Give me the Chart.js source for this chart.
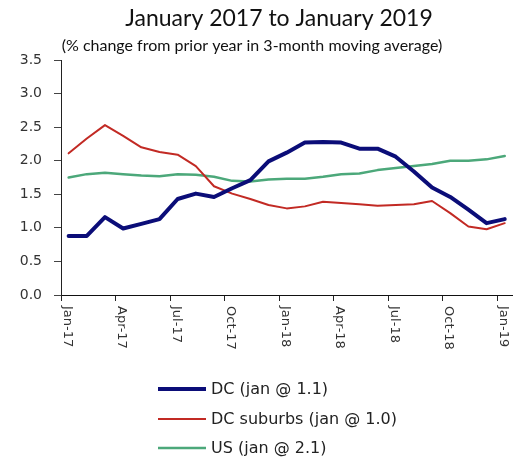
<!DOCTYPE html>
<html><head><meta charset="utf-8">
<script src="https://cdn.jsdelivr.net/npm/chart.js@4.4.1/dist/chart.umd.min.js"></script>
<style>html,body{margin:0;padding:0;background:#fff}#wrap{width:514px;height:460px}</style>
</head><body><div id="wrap"><canvas id="c" width="514" height="460"></canvas></div>
<script>
const months = ['Jan-17','Feb-17','Mar-17','Apr-17','May-17','Jun-17','Jul-17','Aug-17','Sep-17','Oct-17','Nov-17','Dec-17',
  'Jan-18','Feb-18','Mar-18','Apr-18','May-18','Jun-18','Jul-18','Aug-18','Sep-18','Oct-18','Nov-18','Dec-18','Jan-19'];
const tickLabels = ['Jan-17','Apr-17','Jul-17','Oct-17','Jan-18','Apr-18','Jul-18','Oct-18','Jan-19'];
const dc        = [0.88,0.88,1.16,0.99,1.06,1.13,1.43,1.51,1.46,1.59,1.71,1.99,2.12,2.27,2.28,2.27,2.18,2.18,2.06,1.84,1.60,1.46,1.27,1.07,1.13];
const dcSuburbs = [2.11,2.33,2.53,2.37,2.20,2.13,2.09,1.92,1.62,1.51,1.43,1.34,1.29,1.32,1.39,1.37,1.35,1.33,1.34,1.35,1.40,1.22,1.02,0.98,1.07];
const us        = [1.75,1.80,1.82,1.80,1.78,1.77,1.80,1.79,1.76,1.70,1.69,1.72,1.73,1.73,1.76,1.80,1.81,1.86,1.89,1.92,1.95,2.00,2.00,2.02,2.07];
const seriesNames = ['DC (jan @ 1.1)','DC suburbs (jan @ 1.0)','US (jan @ 2.1)'];
const titleText = 'January 2017 to January 2019';
const subtitleText = '(% change from prior year in 3-month moving average)';

const MONTH_OFFSET = 0.42;
const toPts = arr => arr.map((v, i) => ({x: i + MONTH_OFFSET, y: v}));
const tickValues = tickLabels.map(l => months.indexOf(l));

const decor = {
  id: 'decor',
  afterDraw(chart) {
    const ctx = chart.ctx;
    ctx.save();
    // titles
    ctx.fillStyle = '#111';
    ctx.textAlign = 'center';
    ctx.textBaseline = 'middle';
    ctx.font = '23px Lato';
    ctx.fillText(titleText, 279, 19);
    ctx.font = '16px Lato';
    ctx.fillText(subtitleText, 252, 46);
    // rotated x tick labels
    const xs = chart.scales.x;
    ctx.font = '13px "DejaVu Sans"';
    ctx.fillStyle = '#333';
    xs.ticks.forEach((t, k) => {
      const px = xs.getPixelForValue(t.value);
      ctx.save();
      ctx.translate(px + 6, 306);
      ctx.rotate(Math.PI / 2);
      ctx.textAlign = 'left';
      ctx.textBaseline = 'middle';
      ctx.fillText(tickLabels[k], 0, 0);
      ctx.restore();
    });
    // legend
    const rows = [389, 419, 448];
    ctx.font = '16px "DejaVu Sans"';
    ctx.textAlign = 'left';
    ctx.textBaseline = 'middle';
    chart.data.datasets.forEach((ds, i) => {
      ctx.strokeStyle = ds.borderColor;
      ctx.lineWidth = ds.borderWidth;
      ctx.lineCap = 'butt';
      ctx.beginPath();
      ctx.moveTo(158, rows[i]);
      ctx.lineTo(206, rows[i]);
      ctx.stroke();
      ctx.fillStyle = '#222';
      ctx.fillText(ds.label, 211, rows[i] + 1);
    });
    ctx.restore();
  }
};

new Chart(document.getElementById('c'), {
  type: 'line',
  data: {
    datasets: [
      {label: seriesNames[0], data: toPts(dc), borderColor: '#0b0d78', borderWidth: 4},
      {label: seriesNames[1], data: toPts(dcSuburbs), borderColor: '#c22a24', borderWidth: 2},
      {label: seriesNames[2], data: toPts(us), borderColor: '#4ca87a', borderWidth: 2.5}
    ]
  },
  options: {
    responsive: false,
    animation: false,
    devicePixelRatio: 1,
    layout: {padding: {top: 60, right: 2, left: 0, bottom: 0}},
    elements: {
      point: {radius: 0},
      line: {tension: 0, borderJoinStyle: 'round', borderCapStyle: 'round'}
    },
    plugins: {legend: {display: false}, title: {display: false}, tooltip: {enabled: false}},
    scales: {
      x: {
        type: 'linear',
        min: 0, max: 24.82,
        afterFit(s) { s.height = 165; },
        afterBuildTicks(s) { s.ticks = tickValues.map(v => ({value: v})); },
        ticks: {color: 'transparent', autoSkip: false, maxRotation: 0, callback: (v) => ''},
        grid: {drawOnChartArea: false, drawTicks: true, tickLength: 6, color: '#222'},
        border: {display: true, color: '#111', width: 1}
      },
      y: {
        min: 0, max: 3.5,
        afterFit(s) { s.width = 61; },
        ticks: {stepSize: 0.5, padding: 12, color: '#333', font: {family: 'DejaVu Sans', size: 14},
                callback: v => Number(v).toFixed(1)},
        grid: {drawOnChartArea: false, drawTicks: true, tickLength: 7, color: '#444'},
        border: {display: true, color: '#222', width: 1, dash: [2, 2]}
      }
    }
  },
  plugins: [decor]
});
</script>
</body></html>
